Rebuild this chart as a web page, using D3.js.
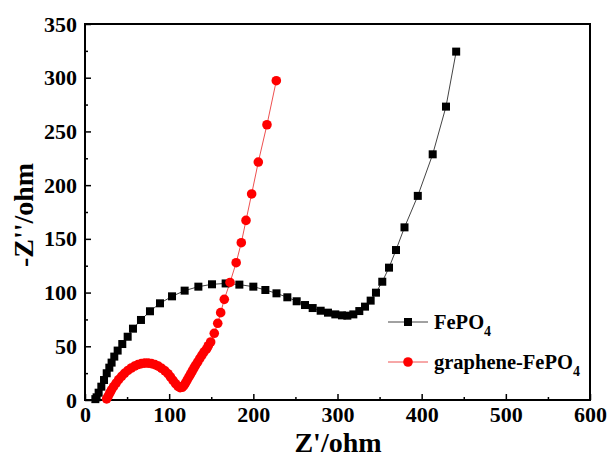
<!DOCTYPE html>
<html>
<head>
<meta charset="utf-8">
<script src="https://d3js.org/d3.v7.min.js"></script>
<style>
  body { margin: 0; background: #fff; }
  text { font-family: "Liberation Serif", "Times New Roman", serif; font-weight: bold; }
</style>
</head>
<body>
<svg width="610" height="459"></svg>
<script>

    // FePO4 (black squares)
    var fepoX = [12.3, 13.8, 16.2, 19.4, 22.6, 25.8, 28.9, 31.6, 34.8, 38.8, 44.3, 50.7, 57.0, 66.5, 77.2,
                 89.1, 103.4, 118.4, 134.7, 150.9, 167.1, 183.4, 200.0, 214.3, 227.5, 240.4, 251.5, 261.4,
                 270.5, 280.0, 288.7, 297.4, 305.3, 311.7, 318.8, 325.9, 332.7, 339.4, 345.7, 353.2, 361.2,
                 369.5, 379.6, 395.4, 413.1, 428.9, 441.0];
    var fepoY = [0.8, 2.5, 6.8, 12.4, 18.6, 24.9, 30.1, 34.8, 40.4, 46.0, 52.1, 58.9, 66.4, 74.5, 82.6,
                 90.0, 96.5, 101.8, 105.5, 107.7, 108.5, 107.4, 105.5, 102.4, 99.3, 95.6, 91.9, 88.4,
                 85.6, 83.1, 81.3, 79.7, 78.8, 78.5, 79.7, 82.8, 86.9, 92.5, 99.9, 110.1, 123.2,
                 139.6, 160.7, 190.0, 228.7, 273.1, 324.3];

    // graphene-FePO4 (red circles)
    var grX = [25.7, 27.5, 29.5, 31.5, 34, 37, 40, 43.5, 47, 51, 55, 59, 63, 67, 71, 75, 79, 83, 87, 91, 95,
               98.5, 101.5, 104.5, 107.5, 110.5, 113, 115.5, 117.5, 119.5, 121.5, 123.5, 125.5, 127.5, 129.5,
               131.5, 134, 136.5, 139, 141.5, 144.5, 146.5, 149.3, 153.6, 157.7, 161.2, 165.5, 172.3, 179.6,
               185.7, 191.3, 198.0, 205.9, 216.2, 227.3];
    var grY = [1.0, 3.5, 6.5, 9.5, 12.5, 15.8, 19.0, 22, 24.8, 27.5, 29.8, 31.6, 33.0, 33.9, 34.3, 34.3, 33.9,
               32.9, 31.5, 29.5, 27.2, 24.5, 21.5, 18.3, 15.3, 12.8, 11.5, 11.8, 13.5, 16, 18.8, 21.5, 24.2,
               27, 29.8, 32.5, 35.5, 38.8, 41.8, 44.8, 47.5, 50.5, 54.0, 62.1, 71.4, 81.3, 93.7, 109.4, 127.8,
               146.4, 167.2, 191.8, 221.5, 256.2, 297.2];

    var xTicks = [0, 100, 200, 300, 400, 500, 600],
        xMinor = [50, 150, 250, 350, 450, 550],
        yTicks = [0, 50, 100, 150, 200, 250, 300, 350],
        yMinor = [25, 75, 125, 175, 225, 275, 325];

    var svg = d3.select("svg"),
        margin = {top: 24, right: 20, bottom: 59, left: 85},
        width = +svg.attr("width") - margin.left - margin.right,
        height = +svg.attr("height") - margin.top - margin.bottom;

    var x = d3.scaleLinear().domain([0, 600]).range([0, width]),
        y = d3.scaleLinear().domain([0, 350]).range([height, 0]);

    var g = svg.append("g")
        .attr("transform", "translate(" + margin.left + "," + margin.top + ")");

    // axes with inward ticks
    g.append("g")
        .attr("transform", "translate(0," + height + ")")
        .call(d3.axisBottom(x).tickValues(xTicks).tickSize(-6).tickPadding(6))
        .call(function(a) { a.select(".domain").remove(); });
    g.append("g")
        .attr("transform", "translate(0," + height + ")")
        .call(d3.axisBottom(x).tickValues(xMinor).tickSize(-3).tickFormat(""))
        .call(function(a) { a.select(".domain").remove(); });
    g.append("g")
        .call(d3.axisLeft(y).tickValues(yTicks).tickSize(-6).tickPadding(8))
        .call(function(a) { a.select(".domain").remove(); });
    g.append("g")
        .call(d3.axisLeft(y).tickValues(yMinor).tickSize(-3).tickFormat(""))
        .call(function(a) { a.select(".domain").remove(); });

    g.selectAll(".tick line").attr("stroke", "#000").attr("stroke-width", 1.5);
    g.selectAll(".tick text")
        .attr("font-size", 22)
        .attr("font-family", "Liberation Serif, Times New Roman, serif")
        .attr("font-weight", "bold")
        .attr("fill", "#000");

    // frame
    g.append("rect")
        .attr("width", width)
        .attr("height", height)
        .attr("fill", "none")
        .attr("stroke", "#000")
        .attr("stroke-width", 2);

    var fepo = fepoX.map(function(v, i) { return [v, fepoY[i]]; }),
        gr = grX.map(function(v, i) { return [v, grY[i]]; });

    var line = d3.line()
        .x(function(d) { return x(d[0]); })
        .y(function(d) { return y(d[1]); });

    g.append("path").datum(fepo)
        .attr("d", line)
        .attr("fill", "none")
        .attr("stroke", "#444")
        .attr("stroke-width", 1);
    g.append("path").datum(gr)
        .attr("d", line)
        .attr("fill", "none")
        .attr("stroke", "#ee5050")
        .attr("stroke-width", 1);

    g.selectAll(".sq")
        .data(fepo)
        .enter().append("rect")
        .attr("class", "sq")
        .attr("x", function(d) { return x(d[0]) - 4; })
        .attr("y", function(d) { return y(d[1]) - 4; })
        .attr("width", 8)
        .attr("height", 8)
        .attr("fill", "#000");

    g.selectAll(".dot")
        .data(gr)
        .enter().append("circle")
        .attr("class", "dot")
        .attr("cx", function(d) { return x(d[0]); })
        .attr("cy", function(d) { return y(d[1]); })
        .attr("r", 4.8)
        .attr("fill", "#ff0000");

    // axis titles
    svg.append("text")
        .attr("x", 338)
        .attr("y", 452)
        .attr("text-anchor", "middle")
        .attr("font-size", 28)
        .text("Z'/ohm");
    svg.append("text")
        .attr("transform", "translate(33,215) rotate(-90)")
        .attr("text-anchor", "middle")
        .attr("font-size", 28)
        .text("-Z''/ohm");

    // legend
    var legend = svg.append("g");
    var items = [
        {name: "FePO", color: "#000", line: "#444", shape: "square", y: 322},
        {name: "graphene-FePO", color: "#ff0000", line: "#ee5050", shape: "circle", y: 362}
    ];
    items.forEach(function(it) {
        legend.append("line")
            .attr("x1", 388).attr("x2", 428)
            .attr("y1", it.y).attr("y2", it.y)
            .attr("stroke", it.line).attr("stroke-width", 1);
        if (it.shape === "square") {
            legend.append("rect")
                .attr("x", 404).attr("y", it.y - 4)
                .attr("width", 8).attr("height", 8)
                .attr("fill", it.color);
        } else {
            legend.append("circle")
                .attr("cx", 408).attr("cy", it.y)
                .attr("r", 4.8).attr("fill", it.color);
        }
        var t = legend.append("text")
            .attr("x", 434)
            .attr("y", it.y + 7)
            .attr("font-size", 20.5)
            .text(it.name);
        t.append("tspan")
            .attr("dy", 7)
            .attr("font-size", 14)
            .text("4");
    });

</script>
</body>
</html>
